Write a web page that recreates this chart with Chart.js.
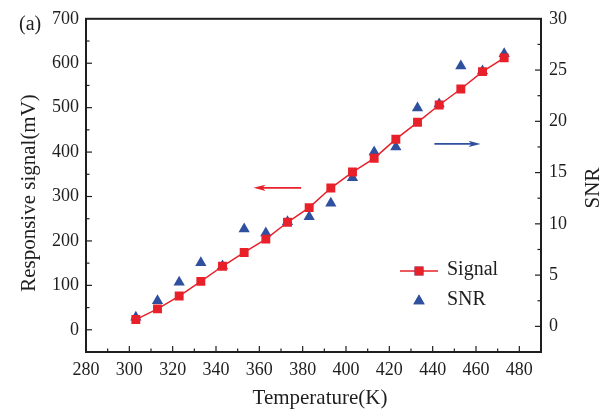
<!DOCTYPE html>
<html>
<head>
<meta charset="utf-8">
<script src="https://cdn.jsdelivr.net/npm/chart.js@4.4.0/dist/chart.umd.min.js"></script>
<style>
  html, body { margin: 0; padding: 0; background: #fff; }
</style>
</head>
<body>
<canvas id="tempChart" width="608" height="414"></canvas>
<script>
// values
const temperatures = [303, 313, 323, 333, 343, 353, 363, 373, 383, 393, 403, 413, 423, 433, 443, 453, 463, 473];
const signalMv = [23, 47, 76, 109, 143, 174, 204, 242, 275, 319, 355, 386, 429, 467, 506, 542, 581, 612];
const snrValues = [0.9, 2.5, 4.3, 6.2, 5.9, 9.5, 9.1, 10.2, 10.7, 12.0, 14.5, 17.0, 17.5, 21.3, 21.7, 25.4, 24.9, 26.6];

const tempTicks = [280, 300, 320, 340, 360, 380, 400, 420, 440, 460, 480];
const signalTicks = [0, 100, 200, 300, 400, 500, 600, 700];
const snrTicks = [0, 5, 10, 15, 20, 25, 30];

const RED = '#e8202a';
const BLUE = '#2f4f9f';
const INK = '#1e1e1e';
const SERIF = '"Liberation Serif", "Times New Roman", serif';

function fixTicks(list) {
    return scale => { scale.ticks = list.map(v => ({ value: v })); };
}

// inward ticks, box frame, arrows, legend, axis titles, panel label
const decorations = {
    id: 'decorations',
    afterDatasetsDraw(chart) {
        const { ctx, chartArea: a, scales } = chart;
        const x = scales.x, y = scales.y, y2 = scales.y2;
        ctx.save();
        ctx.strokeStyle = INK;
        ctx.lineWidth = 1.2;
        const seg = (x1, y1, x2, y2_) => {
            ctx.beginPath(); ctx.moveTo(x1, y1); ctx.lineTo(x2, y2_); ctx.stroke();
        };
        tempTicks.forEach(v => {
            const px = x.getPixelForValue(v);
            seg(px, a.bottom, px, a.bottom - 6);
            const mx = x.getPixelForValue(v + 10);
            if (mx < a.right - 1) seg(mx, a.bottom, mx, a.bottom - 3.5);
        });
        signalTicks.forEach(v => {
            const py = y.getPixelForValue(v);
            if (py > a.top + 1) seg(a.left, py, a.left + 6, py);
            const my = y.getPixelForValue(v - 50);
            if (my < a.bottom - 1) seg(a.left, my, a.left + 3.5, my);
        });
        snrTicks.forEach(v => {
            const py = y2.getPixelForValue(v);
            if (py > a.top + 1) seg(a.right, py, a.right - 6, py);
            const my = y2.getPixelForValue(v - 2.5);
            if (my < a.bottom - 1) seg(a.right, my, a.right - 3.5, my);
        });
        ctx.lineWidth = 2;
        ctx.strokeRect(a.left, a.top, a.right - a.left, a.bottom - a.top);

        // arrows pointing to each axis
        const arrow = (x1, x2, py, color) => {
            ctx.strokeStyle = color;
            ctx.fillStyle = color;
            ctx.lineWidth = 1.6;
            const dir = Math.sign(x2 - x1);
            seg(x1, py, x2 - dir * 8, py);
            ctx.beginPath();
            ctx.moveTo(x2, py);
            ctx.lineTo(x2 - dir * 12, py - 3.2);
            ctx.lineTo(x2 - dir * 9, py);
            ctx.lineTo(x2 - dir * 12, py + 3.2);
            ctx.closePath();
            ctx.fill();
        };
        arrow(x.getPixelForValue(379.3), x.getPixelForValue(357.3), y.getPixelForValue(319.5), RED);
        arrow(x.getPixelForValue(440.8), x.getPixelForValue(462.1), y2.getPixelForValue(17.8), BLUE);

        // legend
        ctx.strokeStyle = RED;
        ctx.lineWidth = 1.5;
        seg(400, 271, 438, 271);
        Chart.helpers.drawPoint(ctx, { pointStyle: 'rect', radius: 6.3, borderWidth: 0 }, 419, 271);
        ctx.fillStyle = RED;
        ctx.fill();
        ctx.fillStyle = BLUE;
        Chart.helpers.drawPoint(ctx, { pointStyle: 'triangle', radius: 6.5, borderWidth: 0 }, 419, 301);
        ctx.fill();
        ctx.fillStyle = INK;
        ctx.font = '20px ' + SERIF;
        ctx.textBaseline = 'middle';
        ctx.textAlign = 'left';
        ctx.fillText('Signal', 447, 270);
        ctx.fillText('SNR', 447, 300);

        // axis titles
        ctx.font = '21px ' + SERIF;
        ctx.textAlign = 'center';
        ctx.fillText('Temperature(K)', 320, 398);
        const vertical = (text, tx, ty) => {
            ctx.save();
            ctx.translate(tx, ty);
            ctx.rotate(-Math.PI / 2);
            ctx.fillText(text, 0, 0);
            ctx.restore();
        };
        vertical('Responsive signal(mV)', 29, 193);
        vertical('SNR', 593, 188);

        ctx.textAlign = 'left';
        ctx.font = '20px ' + SERIF;
        ctx.fillText('(a)', 19, 25);
        ctx.restore();
    }
};

const ctx = document.getElementById('tempChart').getContext('2d');
const tempChart = new Chart(ctx, {
    type: 'line',
    data: {
        datasets: [{
            label: 'Signal',
            data: temperatures.map((t, i) => ({ x: t, y: signalMv[i] })),
            yAxisID: 'y',
            borderColor: RED,
            backgroundColor: RED,
            borderWidth: 1.5,
            pointStyle: 'rect',
            pointRadius: 6.3,
            pointBorderWidth: 0,
            tension: 0
        }, {
            label: 'SNR',
            data: temperatures.map((t, i) => ({ x: t, y: snrValues[i] })),
            yAxisID: 'y2',
            showLine: false,
            borderColor: BLUE,
            backgroundColor: BLUE,
            pointStyle: 'triangle',
            pointRadius: 6.5,
            pointBorderWidth: 0
        }]
    },
    options: {
        responsive: false,
        animation: false,
        events: [],
        layout: { padding: { top: 16, left: 0, right: 0, bottom: 0 } },
        plugins: { legend: { display: false }, tooltip: { enabled: false } },
        scales: {
            x: {
                type: 'linear',
                position: 'bottom',
                min: 280,
                max: 490,
                afterBuildTicks: fixTicks(tempTicks),
                afterFit: s => { s.height = 62; },
                grid: { display: false, drawTicks: false },
                border: { display: false },
                ticks: { color: INK, padding: 7, font: { family: SERIF, size: 18 } },
                title: { display: false }
            },
            y: {
                type: 'linear',
                position: 'left',
                min: -50,
                max: 700,
                afterBuildTicks: fixTicks(signalTicks),
                afterFit: s => { s.width = 86; },
                grid: { display: false, drawTicks: false },
                border: { display: false },
                ticks: { color: INK, padding: 7, font: { family: SERIF, size: 18 } },
                title: { display: false }
            },
            y2: {
                type: 'linear',
                position: 'right',
                min: -2.5,
                max: 30,
                afterBuildTicks: fixTicks(snrTicks),
                afterFit: s => { s.width = 67; },
                grid: { display: false, drawTicks: false },
                border: { display: false },
                ticks: { color: INK, padding: 8, font: { family: SERIF, size: 18 } },
                title: { display: false }
            }
        }
    },
    plugins: [decorations]
});
</script>
</body>
</html>
